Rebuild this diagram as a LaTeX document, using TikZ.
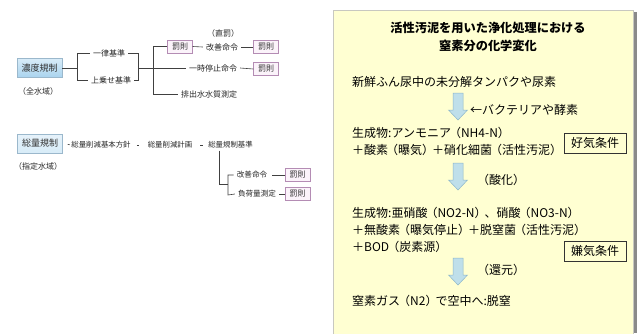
\documentclass[tikz,border=0pt]{standalone}
\usepackage{fontspec}
\setmainfont{Noto Sans CJK JP}
\usetikzlibrary{calc}
\definecolor{yellowbg}{HTML}{FFFFD2}
\definecolor{panelborder}{HTML}{C8C8C0}
\definecolor{shadowgray}{HTML}{8A8A8A}
\definecolor{arrowfill}{HTML}{BFDFEA}
\definecolor{arrowdraw}{HTML}{8DB7C9}
\definecolor{penaltydraw}{HTML}{B48CB4}
\definecolor{penaltyfill}{HTML}{FBF3FA}
\definecolor{boxblueA}{HTML}{D8ECF8}
\definecolor{boxblueB}{HTML}{A9D3EE}
\definecolor{boxblueC}{HTML}{E6F2FA}
\definecolor{boxdraw}{HTML}{9BB8CC}
\definecolor{linegray}{HTML}{404040}
\newcommand\myLP{\kern-2pt（}
\newcommand\myRP{）\kern-2pt}
\begin{document}
\begin{tikzpicture}[x=1pt,y=-1pt,
  small/.style={font=\fontsize{8}{9}\selectfont, inner sep=3pt, text=black!85},
  tiny/.style={font=\fontsize{7.4}{9}\selectfont, inner sep=0pt, text=black!85},
  regbox/.style={draw=boxdraw, top color=boxblueA, bottom color=boxblueB, minimum width=45pt, minimum height=19pt, inner sep=1pt, font=\fontsize{9}{10}\selectfont, text=black!80},
  penalty/.style={draw=penaltydraw, fill=penaltyfill, minimum width=25pt, minimum height=13pt, inner sep=1pt, font=\fontsize{8}{9}\selectfont, text=black!80},
  conn/.style={draw=linegray, line width=0.6pt},
  big/.style={font=\fontsize{12}{14}\selectfont, inner sep=0pt, anchor=west},
  ttl/.style={font=\fontsize{12.2}{14}\selectfont\bfseries, inner sep=0pt},
  cond/.style={draw=black!80, line width=0.7pt, font=\fontsize{12}{14}\selectfont, minimum width=62pt, minimum height=20pt, inner sep=2pt},
  blockarrow/.pic={\path[fill=arrowfill, draw=arrowdraw, line width=0.5pt]
     (-5,0) -- (5,0) -- (5,17) -- (9.5,17) -- (0,27) -- (-9.5,17) -- (-5,17) -- cycle;}
]
\useasboundingbox (0,0) rectangle (637,333);
\fill[white] (0,0) rectangle (637,333);

% ---------- concentration regulation ----------
\node[regbox] (A) at (39.5,68) {濃度規制};
\node[small] (A2) at (38,91) {（全水域）};
\node[small] (L1) at (109,53) {一律基準};
\node[small] (L2) at (111,80) {上乗せ基準};
\coordinate (j1) at (77,68);
\coordinate (j2) at (138,68);
\coordinate (j3) at (153,68);
\node[penalty] (P1) at (180,46.5) {罰則};
\node[small] (T1) at (222,47) {改善命令};
\node[small] (TT) at (223,33) {（直罰）};
\node[penalty] (P2) at (266,47) {罰則};
\node[small] (T2) at (213,68) {一時停止命令};
\node[penalty] (P3) at (266,69) {罰則};
\node[small] (T3) at (209,94) {排出水水質測定};

\draw[conn] (A.east) -- (j1);
\draw[conn] (L1.west) -- (L1.west -| j1) -- (L2.west -| j1) -- (L2.west);
\draw[conn] (L1.east) -- (L1.east -| j2) -- (L2.east -| j2) -- (L2.east);
\draw[conn] (j2) -- (T2.west);
\draw[conn] (P1.west) -- (P1.west -| j3) -- (T3.west -| j3) -- (T3.west);
\draw[conn] (P1.east) -- (T1.west);
\draw[conn] (T1.east) -- (P2.west);
\draw[conn] (T2.east) -- (P3.west);

% ---------- total amount regulation ----------
\node[regbox, top color=boxblueC, bottom color=boxblueA] (B) at (40,143.5) {総量規制};
\node[small] (B2) at (38,166) {（指定水域）};
\node[tiny] (N1) at (101,145) {総量削減基本方針};
\node[tiny] (N2) at (170,145) {総量削減計画};
\node[tiny] (N3) at (230.5,145) {総量規制基準};
\draw[conn, shorten <=5pt, shorten >=1.5pt] (B.east) -- (N1.west);
\draw[conn, shorten <=6pt, shorten >=9pt] (N1.east) -- (N2.west);
\draw[conn, shorten <=8pt, shorten >=5pt] (N2.east) -- (N3.west);
\coordinate (v1) at (219,184);
\coordinate (v2) at (228,184);
\coordinate (bt) at (228,175);
\coordinate (bb) at (228,195);
\node[small, font=\fontsize{7.6}{9}\selectfont] (K1) at (252,175) {改善命令};
\node[small, font=\fontsize{7.6}{9}\selectfont] (K2) at (257,194) {負荷量測定};
\node[penalty] (P4) at (297.5,175) {罰則};
\node[penalty] (P5) at (297.5,194) {罰則};
\draw[conn] (N3.south -| v1) ++(0,2) -- (v1) -- (v2);
\draw[conn] (K1.west) -- (bt) -- (bb) -- (K2.west);
\draw[conn, shorten <=2pt] (K1.east) -- (P4.west);
\draw[conn] (K2.east) -- (P5.west);

% ---------- nitrogen panel ----------
\fill[shadowgray] (633,12) rectangle (637,333);
\draw[panelborder, fill=yellowbg, line width=0.8pt] (333,10) rectangle (633,334);

\node[ttl] (t1) at (488,28) {活性汚泥を用いた浄化処理における};
\node[ttl] (t2) at (488,46) {窒素分の化学変化};

\node[big] (s1) at (352,82) {新鮮ふん尿中の未分解タンパクや尿素};
\pic (a1) at (458,93) {blockarrow};
\node[big] (c1) at (470,110) {←バクテリアや酵素};
\node[big] (s2) at (352,133) {生成物:アンモニア\myLP NH4-N\myRP};
\node[big] (s3) at (352,150) {＋酸素\myLP 曝気\myRP ＋硝化細菌\myLP 活性汚泥\myRP};
\node[cond] (k1) at (595,143) {好気条件};
\pic (a2) at (458,163) {blockarrow};
\node[big] (c2) at (477,180) {（酸化）};
\node[big] (s4) at (352,213) {生成物:亜硝酸\myLP NO2-N\myRP 、硝酸\myLP NO3-N\myRP};
\node[big] (s5) at (352,230) {＋無酸素\myLP 曝気停止\myRP ＋脱窒菌\myLP 活性汚泥\myRP};
\node[big] (s6) at (352,247) {＋BOD\myLP 炭素源\myRP};
\node[cond] (k2) at (595,251) {嫌気条件};
\pic (a3) at (458,258) {blockarrow};
\node[big] (c3) at (477,270) {（還元）};
\node[big] (s7) at (352,301) {窒素ガス\myLP N2\myRP で空中へ:脱窒};
\end{tikzpicture}
\end{document}
